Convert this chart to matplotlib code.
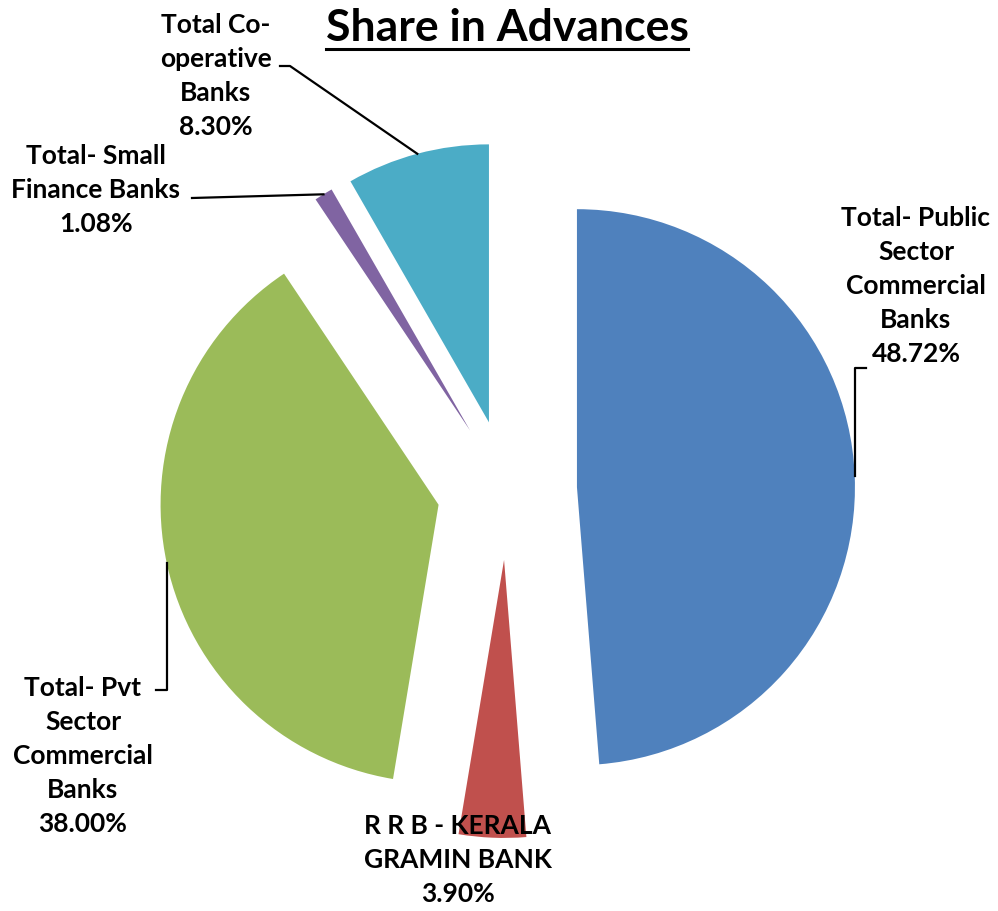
import numpy as np
import matplotlib.pyplot as plt

# data
names = ['Total- Public\nSector\nCommercial\nBanks', 'R R B - KERALA\nGRAMIN BANK',
         'Total- Pvt\nSector\nCommercial\nBanks', 'Total- Small\nFinance Banks',
         'Total Co-\noperative\nBanks']
shares = [48.72, 3.90, 38.00, 1.08, 8.30]
colors = ['#4F81BD', '#C0504D', '#9BBB59', '#8064A2', '#4BACC6']

W, H = 998, 911
plt.rcParams['font.family'] = ['Lato', 'DejaVu Sans']
fig = plt.figure(figsize=(W / 100, H / 100), dpi=100)
ax = fig.add_axes([0, 0, 1, 1])

R = 278
wedges, _ = ax.pie(shares, colors=colors, startangle=90, counterclock=False,
                   radius=R, center=(507, H - 490), explode=[70] * len(shares),
                   wedgeprops=dict(linewidth=0))
ax.set_xlim(0, W)
ax.set_ylim(0, H)
ax.axis('off')

# label positions (image coords: x, y from top)
label_pos = [(916, 286), (458, 860), (83, 756), (96, 190), (216, 76)]
for name, val, (x, y) in zip(names, shares, label_pos):
    ax.text(x, H - y, f'{name}\n{val:.2f}%', ha='center', va='center',
            fontsize=19, fontweight='bold', linespacing=1.5, zorder=5)

# leader lines: start on the arc at the middle of each slice
def arc_mid(w):
    t = np.deg2rad((w.theta1 + w.theta2) / 2)
    return w.center[0] + w.r * np.cos(t), w.center[1] + w.r * np.sin(t)

x0, y0 = arc_mid(wedges[0])
ax.plot([x0, x0, 866], [y0, H - 368, H - 368], color='black', lw=1.6)
x0, y0 = arc_mid(wedges[2])
ax.plot([x0, x0, x0 - 11], [y0, H - 690, H - 690], color='black', lw=1.6)
x0, y0 = arc_mid(wedges[3])
ax.plot([x0, 192], [y0, H - 198], color='black', lw=1.6)
x0, y0 = arc_mid(wedges[4])
ax.plot([x0, 290, 280], [y0, H - 66, H - 66], color='black', lw=1.6)

# underlined title
title = ax.text(507, H - 28, 'Share in Advances', ha='center', va='center',
                fontsize=32, fontweight='bold')
fig.canvas.draw()
bb = title.get_window_extent()
ax.plot([bb.x0, bb.x1], [bb.y0 - 1, bb.y0 - 1], color='black', lw=2.2)

fig.savefig('out.png', dpi=100)
